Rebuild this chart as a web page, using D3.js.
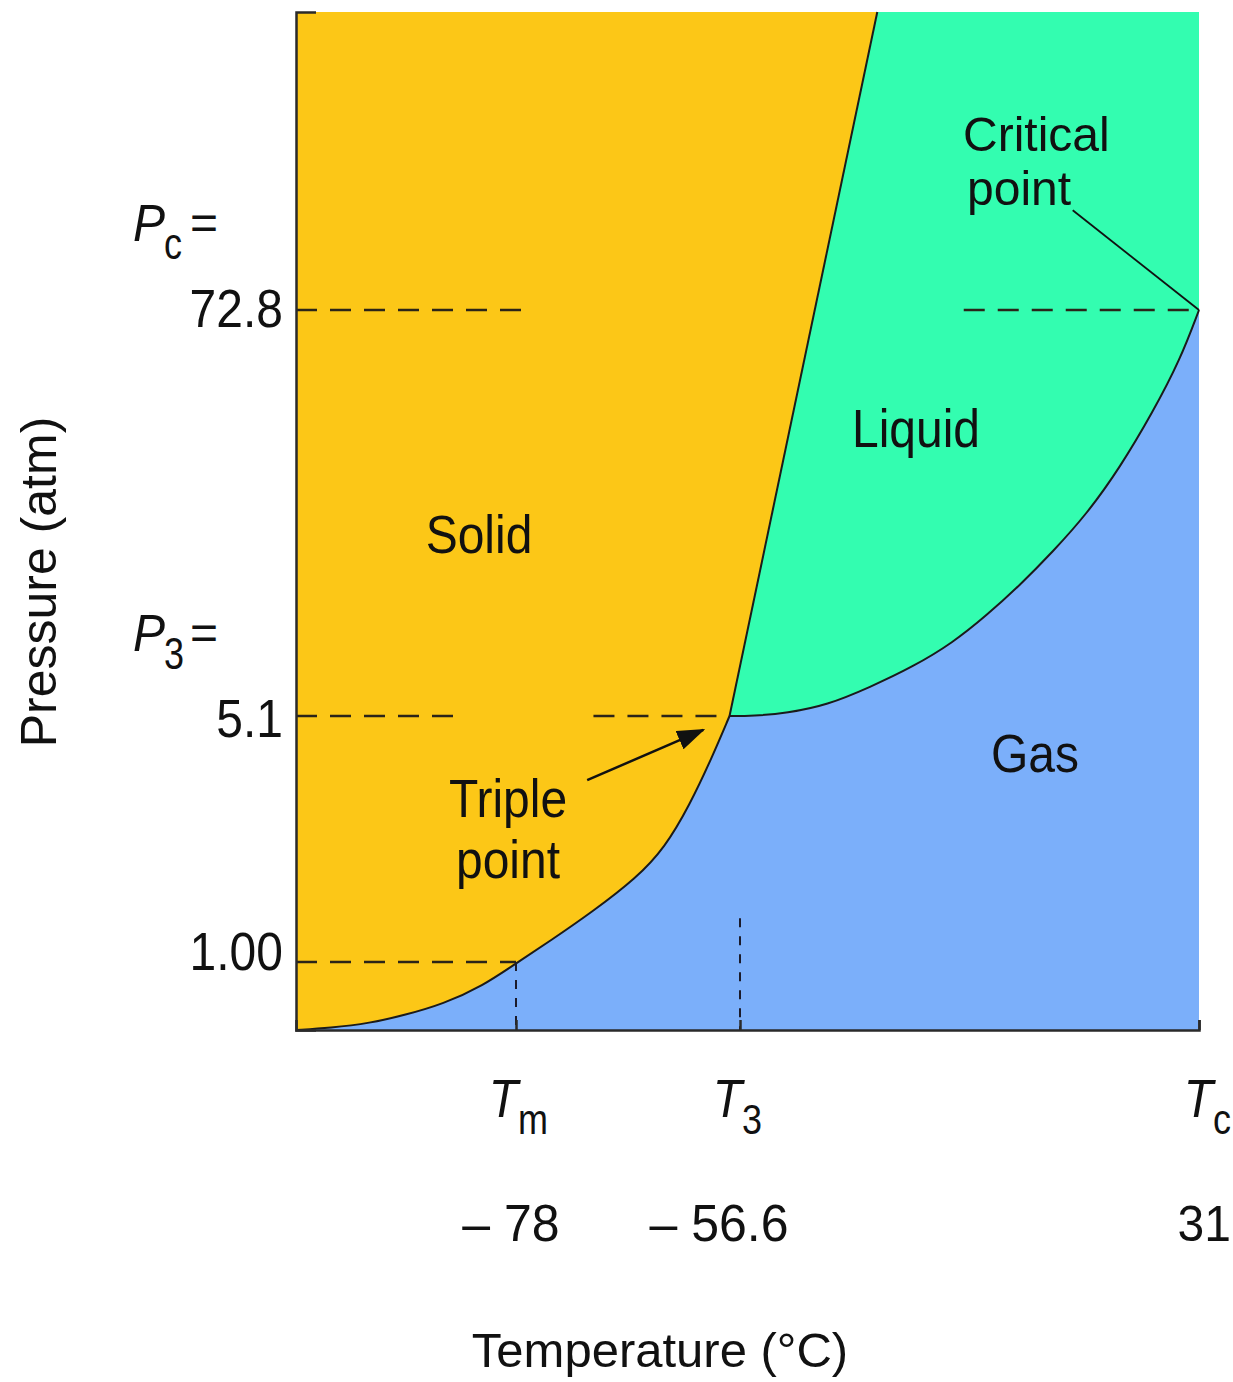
<!DOCTYPE html>
<html><head><meta charset="utf-8">
<script src="https://cdn.jsdelivr.net/npm/d3@7"></script>
<style>
body{margin:0;background:#fff}
svg{display:block}
text{font-family:"Liberation Sans",Arial,Helvetica,sans-serif;fill:#111}
</style>
</head><body>
<svg id="chart" width="1233" height="1382"></svg>
<script>
// ---------------- data ----------------
const tempDomain = [-100, -78, -56.6, 31];          // schematic (not to scale) temperature axis, °C
const pressureDomain = [0, 1, 5.1, 72.8, 100];       // schematic pressure axis, atm
const tempTicks = [-78, -56.6, 31];
const tempSymbols = ["m", "3", "c"];
const tempTickLabels = ["\u2013 78", "\u2013 56.6", "31"];
const pressureTicks = [1.00, 5.1, 72.8];
const pressureTickLabels = ["1.00", "5.1", "72.8"];
const pressureSymbols = [null, "3", "c"];
const triplePoint = [-57.6, 5.1];
const criticalPoint = [31, 72.8];
// solid-gas boundary (sublimation curve)  [T, P]
const sublimation = [[-100,0],[-96.6,0.03],[-92.6,0.10],[-89.1,0.22],[-85.3,0.38],[-81.3,0.65],
  [-78,0.98],[-74.75,1.35],[-70.6,1.85],[-66.5,2.40],[-63.8,2.90],[-61.4,3.62],[-59.3,4.40],[-57.6,5.1]];
// solid-liquid boundary (melting line)
const melting = [[-57.6,5.1],[-30.4,100]];
// liquid-gas boundary (vaporization curve)
const vaporization = [[-57.6,5.1],[-54.1,5.1],[-47.6,5.6],[-40.0,6.9],[-31.8,9.9],[-23.6,13.3],
  [-16.0,17.3],[-9.5,21.9],[-3.2,26.9],[3.1,32.5],[9.6,38.8],[15.9,46.5],[22.2,55.8],[27.4,64.5],[31,72.8]];
// dashed / dotted reference segments [T0, P0, T1, P1]
const dashedRefs = [[-100,1,-78,1],[-100,5.1,-84.1,5.1],[-70.6,5.1,-57.6,5.1],[-100,72.8,-76.9,72.8],[-13.9,72.8,31,72.8]];
const dottedRefs = [[-78,1,-78,0],[-56.6,1.73,-56.6,0]];
const phaseNames = ["Solid", "Liquid", "Gas"];
const tripleLabel = ["Triple", "point"];
const criticalLabel = ["Critical", "point"];
const tripleArrow = [[-71.2,4.03],[-60.1,4.87]];
const criticalLeader = [[6.9,81.9],[31,72.8]];
const xTitle = "Temperature (\u00B0C)";
const yTitle = "Pressure (atm)";

// ---------------- layout ----------------
const colors = {solid:"#FCC717", liquid:"#33FDB0", gas:"#7BAFFA", line:"#1b1b1b", axis:"#2a2a2a"};
const svg = d3.select("#chart");
const x = d3.scaleLinear().domain(tempDomain).range([296, 516, 740, 1199]);
const y = d3.scaleLinear().domain(pressureDomain).range([1030, 962, 716, 310, 12]);
const Tmin = tempDomain[0], Tmax = tempDomain[tempDomain.length-1];
const Pmin = pressureDomain[0], Pmax = pressureDomain[pressureDomain.length-1];

function appendLine(ctx, pts, curve){
  const proxy = {
    moveTo:(a,b)=>ctx.lineTo(a,b),
    lineTo:(a,b)=>ctx.lineTo(a,b),
    bezierCurveTo:(a,b,c,d,e,f)=>ctx.bezierCurveTo(a,b,c,d,e,f),
    quadraticCurveTo:(a,b,c,d)=>ctx.quadraticCurveTo(a,b,c,d),
    closePath:()=>{}
  };
  d3.line().x(d=>x(d[0])).y(d=>y(d[1])).curve(curve).context(proxy)(pts);
}
const smooth = d3.curveBasis, lin = d3.curveLinear;

// gas region
let p = d3.path();
p.moveTo(x(Tmin), y(Pmin));
appendLine(p, sublimation, smooth);
appendLine(p, vaporization, smooth);
p.lineTo(x(Tmax), y(Pmin)); p.closePath();
svg.append("path").attr("d", p.toString()).attr("fill", colors.gas);

// liquid region
p = d3.path();
p.moveTo(x(triplePoint[0]), y(triplePoint[1]));
appendLine(p, vaporization, smooth);
p.lineTo(x(Tmax), y(Pmax));
p.lineTo(x(melting[1][0]), y(melting[1][1]));
p.closePath();
svg.append("path").attr("d", p.toString()).attr("fill", colors.liquid);

// solid region
p = d3.path();
p.moveTo(x(Tmin), y(Pmax));
p.lineTo(x(Tmin), y(Pmin));
appendLine(p, sublimation, smooth);
appendLine(p, melting, lin);
p.closePath();
svg.append("path").attr("d", p.toString()).attr("fill", colors.solid);

// boundaries
const lineGen = c => d3.line().x(d=>x(d[0])).y(d=>y(d[1])).curve(c);
[[sublimation, smooth],[melting, lin],[vaporization, smooth]].forEach(([pts,c])=>{
  svg.append("path").attr("d", lineGen(c)(pts)).attr("fill","none")
    .attr("stroke", colors.line).attr("stroke-width", 2).attr("stroke-linejoin","round");
});

// reference lines
svg.append("g").selectAll("line").data(dashedRefs).join("line")
  .attr("x1", d=>x(d[0])).attr("y1", d=>y(d[1])).attr("x2", d=>x(d[2])).attr("y2", d=>y(d[3]))
  .attr("stroke", "#2b2418").attr("stroke-width", 2.5).attr("stroke-dasharray", "21,13");
svg.append("g").selectAll("line").data(dottedRefs).join("line")
  .attr("x1", d=>x(d[0])).attr("y1", d=>y(d[1])).attr("x2", d=>x(d[2])).attr("y2", d=>y(d[3]))
  .attr("stroke", "#1b1b2b").attr("stroke-width", 2).attr("stroke-dasharray", "9,9");

// axes
const gy = svg.append("g").attr("transform", `translate(${x(Tmin)},0)`)
  .call(d3.axisLeft(y).tickValues([]).tickSizeOuter(-20));
const gx = svg.append("g").attr("transform", `translate(0,${y(Pmin)})`)
  .call(d3.axisBottom(x).tickValues(tempTicks).tickSize(-10).tickFormat(""));
[gx, gy].forEach(g=>{
  g.selectAll("path,line").attr("stroke", colors.axis).attr("stroke-width", 2.5);
  g.selectAll("text").remove();
});

// text helper
function txt(str, tx, ty, size, anchor, sy, opts={}){
  const t = svg.append("text").attr("transform", `translate(${tx},${ty}) scale(1,${sy})`)
    .attr("font-size", size).attr("text-anchor", anchor).text(str);
  if (opts.italic) t.attr("font-style", "italic");
  return t;
}

// x tick labels
const xSymDx = [2, 2, 14];
const xValPos = [[511,"middle"],[719,"middle"],[1231,"end"]];
tempTicks.forEach((v,i)=>{
  const cx = x(v);
  txt("T", cx + xSymDx[i], 1117, 48, "end", 1.1, {italic:true});
  txt(tempSymbols[i], cx + xSymDx[i], 1134, 36, "start", 1.2);
  txt(tempTickLabels[i], xValPos[i][0], 1241, i === 2 ? 48 : 50, xValPos[i][1], 1.05);
});

// y tick labels
const yValDy = [8, 21, 17];
const ySymDy = [0, -65, -69];
pressureTicks.forEach((v,i)=>{
  const cy = y(v);
  txt(pressureTickLabels[i], 283, cy + yValDy[i], 48, "end", 1.12);
  if (pressureSymbols[i]){
    txt("P", 133, cy + ySymDy[i], 48, "start", 1.08, {italic:true});
    txt(pressureSymbols[i], 164, cy + ySymDy[i] + 18, 36, "start", 1.25);
    txt("=", 190, cy + ySymDy[i] - 2, 48, "start", 1);
  }
});

// phase labels
const phasePos = [[479,553],[916,447],[1035,772]];
phaseNames.forEach((n,i)=> txt(n, phasePos[i][0], phasePos[i][1], 48, "middle", 1.1));
txt(tripleLabel[0], 508, 817, 48, "middle", 1.1);
txt(tripleLabel[1], 508, 878, 48, "middle", 1.1);
txt(criticalLabel[0], 963, 151, 48, "start", 1.02);
txt(criticalLabel[1], 967, 205, 48, "start", 1.02);

// arrow & leader
const defs = svg.append("defs");
defs.append("marker").attr("id","arr").attr("viewBox","0 0 14 10").attr("refX",13).attr("refY",5)
  .attr("markerWidth",28).attr("markerHeight",20).attr("markerUnits","userSpaceOnUse").attr("orient","auto")
  .append("path").attr("d","M0,0L14,5L0,10z").attr("fill","#111");
svg.append("line").attr("x1", x(tripleArrow[0][0])).attr("y1", y(tripleArrow[0][1]))
  .attr("x2", x(tripleArrow[1][0])).attr("y2", y(tripleArrow[1][1]))
  .attr("stroke","#111").attr("stroke-width",2.5).attr("marker-end","url(#arr)");
svg.append("line").attr("x1", x(criticalLeader[0][0])).attr("y1", y(criticalLeader[0][1]))
  .attr("x2", x(criticalLeader[1][0])).attr("y2", y(criticalLeader[1][1]))
  .attr("stroke","#111").attr("stroke-width",1.8);

// axis titles
txt(xTitle, 660, 1367, 49, "middle", 1);
svg.append("text").attr("transform","translate(56,582) rotate(-90)")
  .attr("font-size", 50).attr("text-anchor","middle").text(yTitle);
</script>
</body></html>
